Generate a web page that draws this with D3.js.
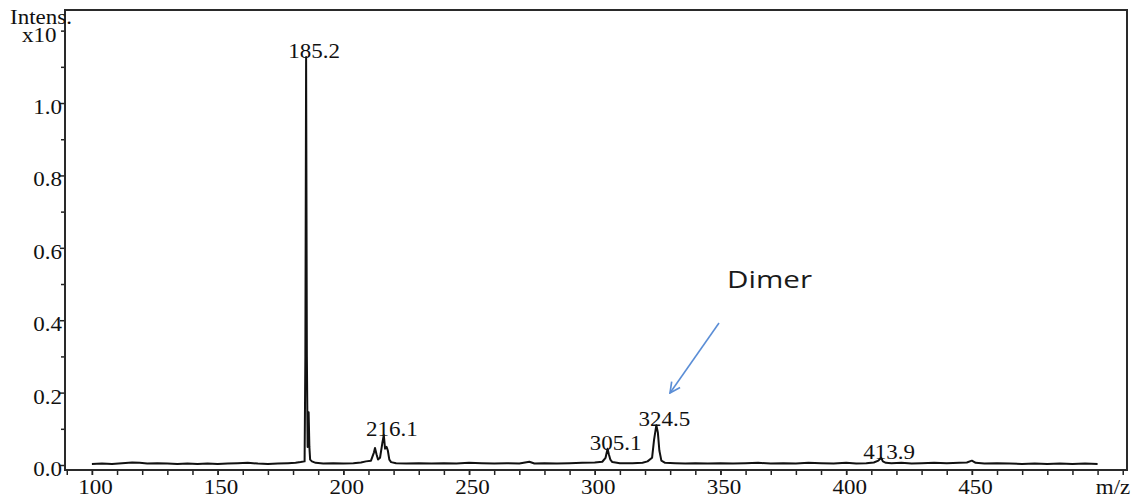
<!DOCTYPE html>
<html><head><meta charset="utf-8">
<script src="https://cdn.jsdelivr.net/npm/d3@7"></script>
<style>body{margin:0;background:#fff}</style>
</head><body><svg id="c" width="1136" height="500"></svg>
<script>
// m/z values and intensities (x10^6)
const mz = [100,104,108,112,116,119,122,126,130,134,138,142,146,150,154,158,162,166,170,174,178,181,183,184.6,184.9,185.2,185.5,185.8,186.0,186.2,186.5,186.8,187.5,189,192,196,200,204,207,209,211,212.2,212.6,213.2,213.8,214.6,215.5,216.1,216.6,217.2,217.7,218.3,219,221,225,230,235,240,245,250,255,260,265,270,274,276,280,285,290,295,300,303,304.3,305.1,305.6,306.2,307,310,315,319,321,322.8,323.6,324.5,325.1,325.7,326.5,328,332,336,340,345,350,355,360,365,370,375,380,385,390,395,400,404,408,411,412.8,413.9,414.6,415.8,418,422,426,430,435,440,445,448,450,451.5,455,460,465,470,475,480,485,490,495,500];
const intensity = [0.003,0.004,0.003,0.005,0.007,0.006,0.004,0.005,0.004,0.003,0.004,0.003,0.004,0.003,0.004,0.005,0.006,0.004,0.003,0.004,0.005,0.006,0.008,0.010,0.30,1.127,0.30,0.05,0.12,0.146,0.05,0.015,0.010,0.006,0.004,0.005,0.004,0.005,0.007,0.010,0.012,0.035,0.047,0.030,0.015,0.020,0.060,0.083,0.045,0.050,0.040,0.015,0.008,0.005,0.004,0.005,0.004,0.005,0.004,0.006,0.005,0.004,0.005,0.004,0.009,0.004,0.005,0.004,0.005,0.006,0.007,0.009,0.020,0.045,0.030,0.015,0.008,0.005,0.005,0.006,0.010,0.020,0.070,0.110,0.090,0.040,0.012,0.006,0.005,0.004,0.005,0.004,0.005,0.004,0.005,0.006,0.004,0.005,0.004,0.006,0.005,0.004,0.006,0.004,0.005,0.007,0.012,0.020,0.010,0.006,0.005,0.006,0.004,0.005,0.006,0.005,0.006,0.007,0.012,0.006,0.004,0.005,0.004,0.003,0.004,0.003,0.004,0.003,0.004,0.003];

const peakLabels = ["185.2","216.1","305.1","324.5","413.9"];
const peakMz = [185.2,216.1,305.1,324.5,413.9];
const peakIntensity = [1.127,0.083,0.045,0.110,0.020];

const xTicks = [100,150,200,250,300,350,400,450];
const xMinorTicks = d3.range(90, 511, 10);
const yTicks = [0,0.2,0.4,0.6,0.8,1.0];
const yMinorTicks = [0.1,0.3,0.5,0.7,0.9,1.1,1.2];
const xDomain = [89.3, 511.7];
const yDomain = [-0.0138, 1.257];

const svg = d3.select("#c");
const L = 65, R = 1127, T = 10, B = 470;
const x = d3.scaleLinear().domain(xDomain).range([L, R]);
const y = d3.scaleLinear().domain(yDomain).range([B, T]);
const serif = "'Liberation Serif','Times New Roman',serif";
const SX = 1.15;

// x axis
const gx = svg.append("g").attr("transform", `translate(0,${B})`);
gx.call(d3.axisBottom(x).tickValues(xMinorTicks).tickSize(5).tickFormat(""));
const gx2 = svg.append("g").attr("transform", `translate(0,${B})`);
gx2.call(d3.axisBottom(x).tickValues(xTicks).tickSize(5).tickPadding(5).tickFormat(d3.format("d")));
[gx, gx2].forEach(g => { g.select(".domain").remove(); g.selectAll("line").attr("stroke", "#222").attr("stroke-width", 1.5); });
gx2.selectAll("text").attr("font-family", serif).attr("font-size", 20).attr("fill", "#111")
  .attr("transform", `translate(3,0) scale(${SX},1)`);

// y axis
const gy = svg.append("g").attr("transform", `translate(${L},0)`);
gy.call(d3.axisLeft(y).tickValues(yMinorTicks).tickSize(4).tickFormat(""));
const gy2 = svg.append("g").attr("transform", `translate(${L},0)`);
gy2.call(d3.axisLeft(y).tickValues(yTicks).tickSize(5).tickPadding(-2).tickFormat(d3.format(".1f")));
[gy, gy2].forEach(g => { g.select(".domain").remove(); g.selectAll("line").attr("stroke", "#222").attr("stroke-width", 1.5); });
gy2.selectAll("text").attr("font-family", serif).attr("font-size", 20).attr("fill", "#111")
  .attr("dy", "0.52em").attr("x", -3 / SX).attr("transform", `scale(${SX},1)`);

// frame
svg.append("rect").attr("x", L).attr("y", T).attr("width", R - L).attr("height", B - T)
  .attr("fill", "none").attr("stroke", "#2a2a2a").attr("stroke-width", 2);

// spectrum
const line = d3.line().x((d, i) => x(mz[i])).y((d, i) => y(intensity[i]));
svg.append("path").datum(mz).attr("d", line).attr("fill", "none")
  .attr("stroke", "#111").attr("stroke-width", 2).attr("stroke-linejoin", "round");

// peak labels
svg.append("g").selectAll("text").data(peakLabels).join("text")
  .attr("transform", (d, i) => `translate(${x(peakMz[i]) + 8},${y(peakIntensity[i]) + 1}) scale(${SX},1)`)
  .attr("text-anchor", "middle").attr("font-family", serif).attr("font-size", 20).attr("fill", "#111")
  .text(d => d);

// axis titles
svg.append("text").attr("transform", `translate(10,24) scale(${SX},1)`)
  .attr("font-family", serif).attr("font-size", 20).attr("fill", "#111").text("Intens.");
svg.append("text").attr("transform", `translate(22,42) scale(${SX},1)`)
  .attr("font-family", serif).attr("font-size", 20).attr("fill", "#111").text("x10");
svg.append("text").attr("transform", `translate(1113,${B + 24}) scale(${SX},1)`).attr("text-anchor", "middle")
  .attr("font-family", serif).attr("font-size", 20).attr("fill", "#111").text("m/z");

// Dimer annotation
svg.append("defs").append("marker").attr("id", "ah").attr("viewBox", "0 0 10 10")
  .attr("refX", 9).attr("refY", 5).attr("markerWidth", 8).attr("markerHeight", 8).attr("orient", "auto")
  .append("path").attr("d", "M1,1 L9,5 L1,9").attr("fill", "none").attr("stroke", "#5b8ed6").attr("stroke-width", 1.3);
svg.append("line").attr("x1", 719).attr("y1", 323).attr("x2", 670).attr("y2", 393)
  .attr("stroke", "#5b8ed6").attr("stroke-width", 1.6).attr("marker-end", "url(#ah)");
svg.append("text").attr("x", 727).attr("y", 288).attr("font-family", "'Open Sans','Noto Sans',sans-serif")
  .attr("font-size", 23).attr("fill", "#1a1a1a").attr("textLength", 85).attr("lengthAdjust", "spacingAndGlyphs").text("Dimer");
</script></body></html>
